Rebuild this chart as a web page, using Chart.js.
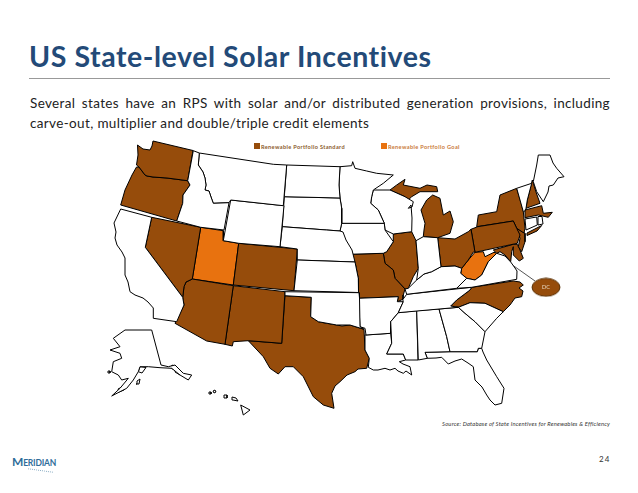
<!DOCTYPE html>
<html>
<head>
<meta charset="utf-8">
<style>
html, body { margin: 0; padding: 0; background: #fff; width: 638px; height: 493px; overflow: hidden; }
body { position: relative; font-family: Lato, sans-serif; color: #222; }
.abs { position: absolute; white-space: nowrap; }
#titulo { left: 29px; top: 39px; font-size: 28.5px; font-weight: 700; color: #234a78; letter-spacing: 0.56px; }
#regla { left: 29px; top: 78px; width: 581px; height: 1px; background: #999; }
#linea1 { left: 30px; top: 95px; font-size: 13.5px; width: 580px; text-align: justify; text-align-last: justify; white-space: normal; letter-spacing: .35px; }
#linea2 { left: 30px; top: 115px; font-size: 13.5px; letter-spacing: .35px; }
#mapa { position: absolute; left: 105px; top: 135px; }
#leyenda span { position: absolute; top: 143px; font-size: 5.6px; font-weight: 700; white-space: nowrap; letter-spacing: .35px; }
#leyenda i { position: absolute; top: 143px; width: 6px; height: 6px; }
#fuente { right: 28px; top: 420px; font-size: 5.8px; font-style: italic; color: #333; letter-spacing: .2px; }
#pagina { left: 599px; top: 454px; font-size: 8px; letter-spacing: 1px; color: #333; }
#logo { left: 12px; top: 454px; font-size: 8.5px; font-weight: 700; color: #2f6d9a; letter-spacing: -.2px; }
#logo::first-letter { font-size: 12px; }
#cola { left: 28px; top: 470px; width: 25px; height: 0; border-bottom: 1px dotted #8fb0c6; transform: rotate(8deg); }
</style>
</head>
<body>
<div class="abs" id="titulo">US State-level Solar Incentives</div>
<div class="abs" id="regla"></div>
<div class="abs" id="linea1">Several states have an RPS with solar and/or distributed generation provisions, including</div>
<div class="abs" id="linea2">carve-out, multiplier and double/triple credit elements</div>
<div id="leyenda"></div>
<canvas id="mapa" width="491" height="285"></canvas>
<div class="abs" id="fuente">Source: Database of State Incentives for Renewables &amp; Efficiency</div>
<div class="abs" id="logo">MERIDIAN</div>
<div class="abs" id="cola"></div>
<div class="abs" id="pagina">24</div>
<script src="https://cdn.jsdelivr.net/npm/chart.js@4"></script>
<script>
// Contornos de estados (unidades del mapa)
const washington = [[153,141],[193,150.5],[187.7,180.7],[167,178],[153,177],[147,176],[145,175],[142,171],[139,167],[136.5,165],[138,155],[137.5,145],[143,149],[150,150],[152,146]];
const oregon = [[136.5,167],[139,167],[142,171],[145,175],[147,176],[153,177],[167,178],[187.7,180.7],[190,185],[183,195],[182.7,203.3],[176.7,221],[120.7,205],[125,190],[132,175]];
const california = [[120.7,209],[151.7,217.3],[145.3,247.3],[182.7,297.3],[184,305],[176.7,321.7],[153.3,318.3],[153.3,308],[148,302],[143,298],[135,295],[130,291.7],[128,282],[125,275],[125,258],[122,252],[117,245],[115,238],[116,232],[114,223]];
const nevada = [[151.7,217.3],[200.7,227.3],[192.3,279],[186,282],[184,286.7],[182.7,297.3],[145.3,247.3]];
const idaho = [[193.3,150.7],[199.3,153],[198.3,165],[203,172],[205,178],[206,185],[205,190],[209,191],[211,197],[213.3,203.3],[229,202.7],[224,230],[200.7,227.3],[176.7,221],[182.7,203.3],[183,195],[190,185],[187.7,180.7]];
const montana = [[199.3,153],[273.3,164.3],[286.7,165],[283.3,205.7],[230.7,200],[229,202.7],[213.3,203.3],[211,197],[209,191],[205,190],[206,185],[205,178],[203,172],[198.3,165]];
const wyoming = [[230.7,200],[284,205.7],[280,246.7],[238.7,243.3],[223.3,240.7]];
const utah = [[200.7,227.3],[223.3,230.7],[223.3,240.7],[238.7,243.3],[233.3,285],[192.3,279]];
const colorado = [[238.7,243.3],[297.3,249],[294,290.7],[233.3,285]];
const arizona = [[192.3,279],[233.3,285.7],[225,344.3],[206.7,341],[175,323.3],[184,305],[182.7,297.3],[184,286.7],[186,282]];
const newMexico = [[233.3,285.7],[285,291.7],[281.7,343.3],[248.3,340.7],[233.3,341.7],[232.3,346],[225,344.3]];
const texas = [[285,295.7],[311.3,297.3],[310.7,316.7],[318.3,321.7],[325,323],[336.7,325],[342,326],[350,325],[364,329.3],[365,350],[369.3,358.3],[366.7,368.3],[358,369],[355,371.7],[347,375],[340,381.7],[335,386],[331.7,393.3],[334,408.3],[323.3,405],[313.3,396.7],[303.3,376.7],[293.3,366.7],[285,366.7],[278.3,374],[270,368.3],[263.3,356.7],[248.3,340.7],[281.7,343.3]];
const oklahoma = [[285,291.7],[359,292.7],[359.5,298],[360,326.7],[364,329.3],[350,325],[336.7,325],[318.3,321.7],[310.7,316.7],[311.3,297.3],[285,295.7]];
const kansas = [[297.3,260],[355,262],[358.3,278.3],[358.5,292.5],[294,290.7]];
const nebraska = [[282.3,226.7],[326.7,230],[340,231],[343,232],[346,240],[352,250],[355,262],[297.3,260],[297.3,249],[280,246.7]];
const dakotaNorte = [[286.7,165],[340,166.7],[339,185],[340,198],[284.3,196.7]];
const dakotaSur = [[284.3,196.7],[340,198],[341.7,208.3],[341.7,223.3],[340,231],[326.7,230],[282.3,226.7]];
const minnesota = [[340,166.7],[351.7,165.7],[352.7,161.7],[355,168.3],[366.7,171],[376.7,173.3],[393.3,175],[383.3,183.3],[373.3,190],[371.7,196.7],[370.7,203.3],[378.3,210],[384.3,223.3],[341.7,223.3],[341.7,208.3],[340,198],[339,185]];
const iowa = [[341.7,223.3],[384.3,223.3],[385,230],[393.3,241.7],[386.7,251.7],[383.3,253.3],[348.3,254.3],[345,245],[340,231]];
const missouri = [[348.3,254.3],[383.3,253.3],[385,263.3],[393.3,270],[395,278.3],[405,289],[403.3,295],[403,299.3],[397.3,301.7],[398.3,296.7],[358.5,298.3],[358.3,278.3],[355,262]];
const wisconsin = [[373.3,190],[390,190],[405,196.7],[413.3,201.7],[412,207],[408.3,208.3],[411,205],[412,218],[411.7,231.7],[393.3,234],[385,230],[384.3,223.3],[378.3,210],[370.7,203.3],[371.7,196.7]];
const michiganAlta = [[390,190],[396.7,185],[405,179.3],[403.3,185],[420,188.3],[427,185],[436.7,186.7],[437.7,191.7],[420,191.7],[411.7,196.7],[408.3,200],[405,196.7]];
const michiganBaja = [[432.7,195],[440,198.3],[443.3,215],[450,211],[453.3,221.7],[450,233.3],[437.7,237.7],[423.3,236.7],[424,230],[425,223.3],[421,210],[426.7,200]];
const illinois = [[393.3,234],[411.7,231.7],[416,240.7],[418.3,268.3],[413.3,276.7],[408.3,288.3],[405,289],[395,278.3],[393.3,270],[385,263.3],[383.3,253.3],[386.7,251.7],[393.3,241.7]];
const indiana = [[416,240.7],[423.3,236.7],[437.7,237.7],[441,266.7],[431.7,271.7],[424,274],[416.7,280],[418.3,268.3]];
const ohio = [[437.7,237.7],[455,239],[468.3,231.7],[471,229.3],[475,252.3],[473.3,252],[468.3,260],[461.7,268.3],[455,266],[441,266.7]];
const pensilvania = [[471,229.3],[477.7,226.7],[513.3,221],[516.7,228.3],[520,235],[517.3,243.3],[475,252.3]];
const nuevaYork = [[476.7,226.7],[478.3,215],[496.7,211.7],[500,195],[516.7,188.3],[521.7,205],[523.3,211.7],[525,228.3],[524,233],[516.7,228.3],[513.3,221]];
const longIsland = [[527,233],[541.7,225.5],[537,231],[527,235.5]];
const vermont = [[516.7,188.3],[531.7,183.3],[527.3,200],[526,208.3],[524.3,211.7],[523.3,211.7]];
const nuevoHampshire = [[532.3,180],[536,192],[540,203.3],[526,208.3],[527.3,200]];
const maine = [[538.3,155],[550,155],[553,163],[556.7,168.3],[564,176.7],[558,178],[553.3,185],[549,186],[548,192],[543.3,201.7],[536.7,191.7],[533.3,181.7],[536.7,165]];
const massachusetts = [[525,210],[541.7,205.7],[543.3,213.3],[552.3,212.3],[548.3,217.3],[538.3,215],[525,217.7]];
const connecticut = [[525,219],[536.7,217],[537.3,225],[526,230]];
const rhodeIsland = [[538,216.5],[542,216.5],[543,224],[538,225]];
const nuevaJersey = [[516.7,228.3],[525,233.3],[525,241.7],[521.7,251.7],[518.3,246.7],[520,238.3]];
const maryland = [[493.3,250],[513.3,244.3],[517.3,244.3],[519.3,248.3],[523.3,258.3],[519.3,261],[513.3,255],[513.3,246.7],[511.7,251.7],[510.7,261.7],[505,255],[500,251.7],[496.7,253.3]];
const virginiaOeste = [[475,252.3],[483.3,251.7],[485,256.7],[494,252.3],[496.7,253.3],[488.3,261.7],[481.7,275],[475,280],[466.7,278.3],[460.7,273.3],[461.7,268.3],[468.3,260]];
const virginia = [[481.7,275],[488.3,261.7],[496.7,253.3],[505,256],[510.7,262],[515,268],[517,271],[516.7,279.3],[471.7,287.3],[456.7,288.3],[465,280],[466.7,278.3],[475,280]];
const kentucky = [[441,266.7],[455,266],[461.7,268.3],[460.7,273.3],[466.7,278.3],[456.7,288.3],[406.7,294.3],[405,289],[408.3,288.3],[416.7,280],[424,274],[431.7,271.7]];
const tennessee = [[406.7,294.3],[471.7,287.3],[470,290],[456.7,300],[450.7,306],[458.3,307.3],[398.3,312.7],[403.3,301.7],[403,299.3]];
const carolinaNorte = [[471.7,287.3],[513.3,281],[520,282],[523.3,285],[519,288],[523,291],[521.7,296.7],[515,298],[510,305],[503.3,311.7],[485,303.3],[470,302.7],[458.3,307.3],[450.7,306],[456.7,300],[470,290]];
const carolinaSur = [[458.3,307.3],[470,302.7],[485,303.3],[503.3,311.7],[496.7,318.3],[485,331.7],[475,321.7],[465,313.3]];
const georgia = [[439,309],[458.3,307.3],[465,313.3],[475,321.7],[485,331.7],[481.7,348.3],[478.3,348.3],[477.3,351.7],[450,351.7],[446.7,336.7]];
const alabama = [[416.7,310.7],[439,309],[446.7,336.7],[450,351.7],[425,352.3],[427.3,358.3],[418.3,360]];
const mississippi = [[398.3,312.7],[416.7,310.7],[418,360],[405.7,360],[403.3,354],[386.7,354],[391.7,343.3],[390.7,321.7]];
const arkansas = [[358.5,298.3],[398.3,296.7],[397.3,301.7],[403.3,301.7],[398.3,312.7],[390.7,321.7],[390.7,333.3],[366,335],[365,328.3],[360,326.7]];
const luisiana = [[365,335],[390.7,333.3],[391.7,343.3],[386.7,354],[403.3,354],[405.7,360],[399.3,361.7],[403,364],[410,366.7],[411.7,375],[406,371],[403.3,373.3],[398,371],[395,368.3],[390,370],[385,368.3],[378,370],[373.3,370],[368.3,367.3],[369.3,358.3],[365,350]];
const florida = [[425,352.3],[450,351.7],[477.3,351.7],[478.3,348.3],[481.7,348.3],[483,352],[486.7,360],[496.7,376.7],[504,388.3],[501.7,403.3],[495,405],[490,400],[486.7,395],[482,387],[475,380],[473.3,366.7],[468,363],[461.7,359],[455,361],[448.3,364],[441.7,357.3],[436,358],[427.3,358.3]];
const alaska = [[151.7,330],[161,365],[168.3,366.7],[175,365],[183.3,373.3],[191.7,375],[188.3,380],[180,375],[171.7,368.3],[160,367.7],[148.3,366.7],[140,366.7],[138.3,371.7],[133.3,380],[126.7,388.3],[120,391.7],[111.7,396],[120,388.3],[128.3,378.3],[121.7,380],[118.3,375],[111.7,371.7],[113.3,361.7],[121.7,358.3],[120,353.3],[110,350],[120,346.7],[113.3,338.3],[125,330],[145,330]];
const cookInlet = [[140,366.7],[146,367.5],[142,373],[138.3,371.7]];
const kodiak = [[137,381],[140,379],[139,384],[136,384]];
const panhandle1 = [[172,365],[178,368],[176,371],[171,368]];
const panhandle2 = [[176,369],[181,371],[180,375],[175,372]];
const unimak = [[118,389],[124,386],[124,390],[119,392]];
const nunivak = [[108,371],[110,371],[110,373],[108,373]];
const hawaii = [[240.7,405],[250,410],[243.3,415],[242,410]];
const maui = [[232,397],[236,398],[238,401],[233,400]];
const oahu = [[224,395],[227,395],[227,398],[224,398]];
const kauai = [[213,391],[215,390],[216,392],[214,393]];
const ninihau = [[209,392],[211,392],[211,394],[209,394]];
const puget = [[146,154],[151,153],[151,158],[146,160]];

const estadosBlancos = [california, idaho, montana, wyoming, oklahoma, kansas, nebraska, dakotaNorte, dakotaSur, minnesota, iowa, wisconsin, indiana, virginia, kentucky, tennessee, carolinaSur, georgia, alabama, mississippi, arkansas, luisiana, florida, vermont, maine, connecticut, rhodeIsland, alaska, cookInlet, kodiak, panhandle1, panhandle2, unimak, nunivak, hawaii, maui, oahu, kauai, ninihau];
const estadosRPS = [washington, oregon, nevada, colorado, arizona, newMexico, texas, missouri, michiganAlta, michiganBaja, illinois, ohio, pensilvania, nuevaYork, longIsland, nuevoHampshire, massachusetts, nuevaJersey, maryland, carolinaNorte];
const estadosMeta = [utah, virginiaOeste];
const lineaDC = [[510,263.3],[535,281]];
const puntoDC = [[546,287.3]];
const etiquetaDC = 'DC';
const nombresLeyenda = ['Renewable Portfolio Standard', 'Renewable Portfolio Goal'];
const coloresLeyenda = ['#964c0b', '#e8720f'];
const posLeyenda = [254, 381];

// Leyenda en HTML
const leyenda = document.getElementById('leyenda');
nombresLeyenda.forEach((nombre, i) => {
    const cuadro = document.createElement('i');
    cuadro.style.left = posLeyenda[i] + 'px';
    cuadro.style.background = coloresLeyenda[i];
    leyenda.appendChild(cuadro);
    const texto = document.createElement('span');
    texto.textContent = nombre;
    texto.style.left = (posLeyenda[i] + 7) + 'px';
    texto.style.color = i === 0 ? '#8a5a2c' : '#c9793a';
    leyenda.appendChild(texto);
});

function poligono(puntos, relleno) {
    const cerrado = puntos.concat([puntos[0]]);
    return {
        data: cerrado.map(p => ({ x: p[0], y: p[1] })),
        showLine: true,
        fill: 'shape',
        backgroundColor: relleno,
        borderColor: '#000',
        borderWidth: 1,
        pointRadius: 0,
        tension: 0,
        clip: false
    };
}

// Marca eliptica para DC
const marcaDC = document.createElement('canvas');
marcaDC.width = 30;
marcaDC.height = 20;
const cm = marcaDC.getContext('2d');
cm.beginPath();
cm.ellipse(15, 10, 14, 9, 0, 0, Math.PI * 2);
cm.fillStyle = coloresLeyenda[0];
cm.fill();
cm.strokeStyle = '#5a3208';
cm.stroke();

const datasets = [];
estadosBlancos.forEach(e => datasets.push(poligono(e, '#fff')));
estadosRPS.forEach(e => datasets.push(poligono(e, coloresLeyenda[0])));
estadosMeta.forEach(e => datasets.push(poligono(e, coloresLeyenda[1])));
datasets.push(poligono(puget, '#fff'));
datasets.push({
    data: lineaDC.map(p => ({ x: p[0], y: p[1] })),
    showLine: true,
    borderColor: '#555',
    borderWidth: 1,
    pointRadius: 0
});
datasets.push({
    data: puntoDC.map(p => ({ x: p[0], y: p[1] })),
    pointStyle: marcaDC,
    pointRadius: 10
});

// Escribe DC sobre el punto
const textoDC = {
    id: 'textoDC',
    afterDatasetsDraw(chart) {
        const ctx = chart.ctx;
        ctx.save();
        ctx.font = '5.5px Lato';
        ctx.fillStyle = '#eadcc8';
        ctx.textAlign = 'center';
        ctx.textBaseline = 'middle';
        ctx.fillText(etiquetaDC, chart.scales.x.getPixelForValue(puntoDC[0][0]), chart.scales.y.getPixelForValue(puntoDC[0][1]));
        ctx.restore();
    }
};

new Chart(document.getElementById('mapa').getContext('2d'), {
    type: 'scatter',
    data: { datasets: datasets },
    options: {
        responsive: false,
        animation: false,
        layout: { padding: 0, autoPadding: false },
        plugins: { legend: { display: false }, tooltip: { enabled: false } },
        scales: {
            x: { type: 'linear', min: 105, max: 596, display: false },
            y: { type: 'linear', min: 135, max: 420, reverse: true, display: false }
        }
    },
    plugins: [textoDC]
});
</script>
</body>
</html>
